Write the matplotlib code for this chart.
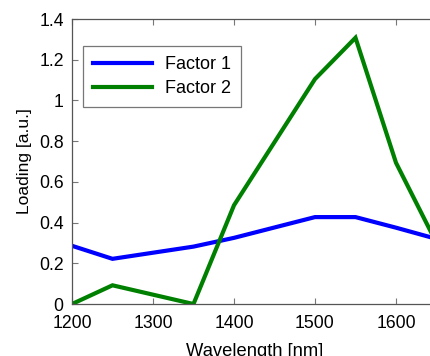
import matplotlib
matplotlib.use("Agg")
import matplotlib.pyplot as plt

wavelength = [1200, 1250, 1350, 1400, 1500, 1550, 1600, 1650]
factor1 = [0.286, 0.222, 0.282, 0.325, 0.427, 0.427, 0.375, 0.32]
factor2 = [0.0, 0.092, 0.0, 0.485, 1.105, 1.308, 0.694, 0.30]
xticks = [1200, 1300, 1400, 1500, 1600]
yticks = [0, 0.2, 0.4, 0.6, 0.8, 1.0, 1.2, 1.4]
ytick_labels = ["0", "0.2", "0.4", "0.6", "0.8", "1", "1.2", "1.4"]

plt.rcParams['font.family'] = ['Liberation Sans', 'DejaVu Sans']
fig = plt.figure(figsize=(4.30, 3.56), dpi=100)
ax = fig.add_axes([0.1674, 0.146, 0.8477, 0.8006])
ax.plot(wavelength, factor1, color='#0000ff', lw=3.0, label='Factor 1', solid_joinstyle='miter')
ax.plot(wavelength, factor2, color='#008000', lw=3.0, label='Factor 2', solid_joinstyle='miter')
ax.set_xlim(1200, 1650)
ax.set_ylim(0, 1.4)
ax.set_xticks(xticks)
ax.set_yticks(yticks)
ax.set_yticklabels(ytick_labels)
for s in ax.spines.values():
    s.set_color('#555555')
    s.set_linewidth(0.9)
ax.tick_params(direction='in', length=4, color='#777777', labelsize=12.7,
               top=True, right=True)
ax.tick_params(axis='x', pad=8)
ax.tick_params(axis='y', pad=6)
ax.set_xlabel('Wavelength [nm]', fontsize=13.2, labelpad=8)
ax.set_ylabel('Loading [a.u.]', fontsize=12.5, labelpad=5)
leg = ax.legend(loc='upper left', bbox_to_anchor=(0.03, 0.905), fontsize=13,
                frameon=True, fancybox=False, handlelength=3.3, handletextpad=0.7,
                borderpad=0.55, labelspacing=0.4, borderaxespad=0)
leg.get_frame().set_edgecolor('#555555')
leg.get_frame().set_linewidth(0.9)
fig.savefig('out.png', dpi=100)
